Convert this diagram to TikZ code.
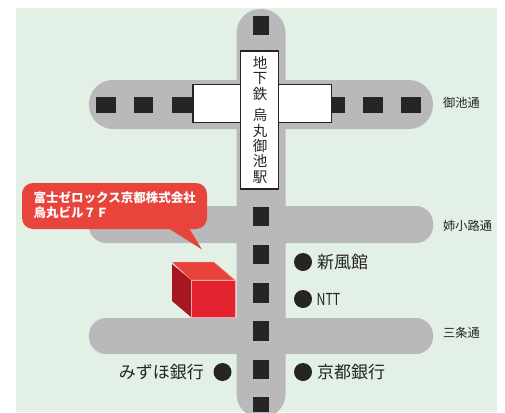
\documentclass[tikz,border=0pt]{standalone}
\usepackage{fontspec}
\setmainfont{Noto Sans CJK JP}
\definecolor{bgc}{HTML}{E2F0E6}
\definecolor{road}{HTML}{B9B8BB}
\definecolor{ink}{HTML}{262425}
\definecolor{bub}{HTML}{E8443C}
\definecolor{bfront}{HTML}{E3232D}
\definecolor{bside}{HTML}{A8171F}
\definecolor{btop}{HTML}{E8433B}
\tikzset{
  x=1pt,y=-1pt,
  roadh/.style={fill=road,rounded corners=17pt},
  sq/.style={fill=ink},
  stn/.style={draw=ink,line width=1.6pt,fill=white},
  dotm/.style={circle,fill=ink,inner sep=0pt,minimum size=18pt},
  lab/.style={inner sep=0pt,text=ink,font=\fontsize{17}{17}\selectfont},
  rlab/.style={inner sep=0pt,text=ink,font=\fontsize{12.2}{13}\selectfont,anchor=west},
}
\begin{document}
\begin{tikzpicture}
\useasboundingbox (0,0) rectangle (505,412);
\fill[white] (0,0) rectangle (505,412);
\fill[bgc] (16,8) rectangle (497,412);
% roads
\begin{scope}
\clip (0,0) rectangle (505,412);
\fill[road,rounded corners=24pt] (236.5,9) rectangle (285.5,418);
\end{scope}
\fill[road,rounded corners=24pt] (89,80) rectangle (433,129);
\fill[roadh] (89,206) rectangle (433,243);
\fill[roadh] (89,318) rectangle (433,354);
% tram squares
\foreach \y/\h in {16/19,207/19,245/19,283/20,321/20,360/19,397/15}
  \fill[sq] (253,\y) rectangle (269,\y+\h);
\foreach \x/\w in {96/20,134/19,172/20,330/15,363/20,401/20}
  \fill[sq] (\x,96.5) rectangle (\x+\w,113);
% station
\draw[stn] (193,84.5) rectangle (331.5,122.5);
\draw[stn] (240.5,51) rectangle (278.5,189);
\fill[white] (241.3,85.3) rectangle (277.7,121.7);
\node[lab,font=\fontsize{14.5}{15.4}\selectfont,align=center] (stname) at (260,120) {地\\下\\鉄\\[6pt]烏\\丸\\御\\池\\駅};
% road labels
\node[rlab] (r1) at (443,103) {御池通};
\node[rlab] (r2) at (443,225.5) {姉小路通};
\node[rlab] (r3) at (443,333) {三条通};
% callout
\fill[bub,rounded corners=11pt] (22,183) rectangle (207,229);
\fill[bub] (168,228) -- (202,249.5) -- (189,228) -- cycle;
\node[inner sep=0pt,anchor=north west,text=white,align=left,font=\fontsize{12.5}{15}\selectfont\bfseries] (co) at (33.5,191.5) {富士ゼロックス京都株式会社\\烏丸ビル７Ｆ};
% building
\fill[btop,draw=white!60!btop,line width=.4pt] (172,262) -- (214,262) -- (235,280) -- (191,280) -- cycle;
\fill[bside] (172,264) -- (191,280) -- (191,317) -- (172,301) -- cycle;
\fill[bfront,draw=white!60!bfront,line width=.4pt] (191,280) rectangle (235,317);
% landmarks
\node[dotm] (d1) at (303,262) {};
\node[lab,anchor=west] (l1) at (317,262) {新風館};
\node[dotm] (d2) at (303,299) {};
\node[lab,anchor=west] (l2) at (316.5,299) {\scalebox{0.82}[1.1]{\fontsize{15}{15}\selectfont NTT}};
\node[dotm] (d3) at (303,372) {};
\node[lab,anchor=west] (l3) at (317,372) {京都銀行};
\node[dotm] (d4) at (222.5,372) {};
\node[lab,anchor=east] (l4) at (204,372) {みずほ銀行};
\end{tikzpicture}
\end{document}
